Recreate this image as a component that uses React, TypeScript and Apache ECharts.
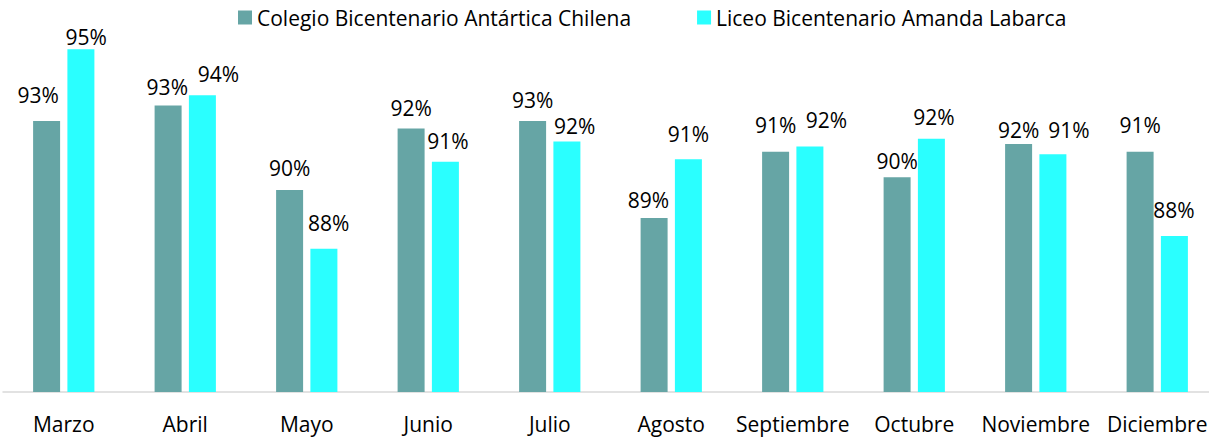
import React, { useEffect, useRef } from "react";
import * as echarts from "echarts";

const months = ["Marzo", "Abril", "Mayo", "Junio", "Julio", "Agosto", "Septiembre", "Octubre", "Noviembre", "Diciembre"];
const seriesNames = ["Colegio Bicentenario Antártica Chilena", "Liceo Bicentenario Amanda Labarca"];
const colegio = [92.6, 93.2, 89.9, 92.3, 92.6, 88.8, 91.4, 90.4, 91.7, 91.4];
const liceo = [95.4, 93.6, 87.6, 91.0, 91.8, 91.1, 91.6, 91.9, 91.3, 88.1];
const colors = ["#66A5A5", "#2AFFFF"];

// hand-placed label nudges seen in the reference: [dx, gap above bar]
const colegioLabelShift = [[-8.5, 17.7], [-0.8, 10], [0, 13], [0, 12.6], [0, 12.4], [-5.7, 9.3], [0, 17.7], [0, 7.7], [0, 5], [0, 18]];
const liceoLabelShift = [[5.3, 4.3], [16, 12.7], [4.8, 17.6], [2.5, 12], [7.8, 7], [0, 16.7], [16.5, 18], [2.5, 13.3], [16, 15.3], [-0.4, 17.7]];

const FONT = "'Open Sans', 'Liberation Sans', sans-serif";
const BASE_GAP = 2;

function withLabels(values: number[], shifts: number[][]) {
  return values.map((v, i) => ({
    value: v,
    label: { offset: [shifts[i][0], 0], distance: Math.max(0, shifts[i][1] - BASE_GAP) },
  }));
}

export default function App() {
  const ref = useRef<HTMLDivElement>(null);
  useEffect(() => {
    if (!ref.current) return;
    const chart = echarts.init(ref.current, null, { renderer: "svg" });
    const label = {
      show: true,
      position: "top",
      color: "#000",
      fontSize: 21,
      fontFamily: FONT,
      formatter: (p: any) => Math.round(p.value) + "%",
    };
    chart.setOption({
      animation: false,
      textStyle: { fontFamily: FONT },
      legend: {
        top: 2,
        left: 233,
        itemWidth: 14,
        itemHeight: 14,
        itemGap: 66,
        icon: "rect",
        textStyle: { fontSize: 21, color: "#000", fontFamily: FONT },
        data: seriesNames,
      },
      grid: { left: 3, right: 0, top: 34, bottom: 46 },
      xAxis: {
        type: "category",
        data: months,
        axisLine: { lineStyle: { color: "#D9D9D9", width: 1.5 } },
        axisTick: { show: false },
        axisLabel: { interval: 0, fontSize: 21, color: "#000", fontFamily: FONT, margin: 21 },
      },
      yAxis: {
        type: "value",
        min: 82,
        max: 96,
        show: false,
        splitLine: { show: false },
      },
      series: [
        {
          name: seriesNames[0],
          type: "bar",
          data: withLabels(colegio, colegioLabelShift),
          barWidth: 27,
          barGap: "27%",
          itemStyle: { color: colors[0] },
          label,
        },
        {
          name: seriesNames[1],
          type: "bar",
          data: withLabels(liceo, liceoLabelShift),
          barWidth: 27,
          itemStyle: { color: colors[1] },
          label,
        },
      ],
    });
    return () => chart.dispose();
  }, []);
  return (
    <div style={{ position: "absolute", left: 0, top: 0, width: 1209, height: 438, overflow: "hidden" }}>
      <div ref={ref} style={{ width: 1218, height: 438 }} />
    </div>
  );
}
